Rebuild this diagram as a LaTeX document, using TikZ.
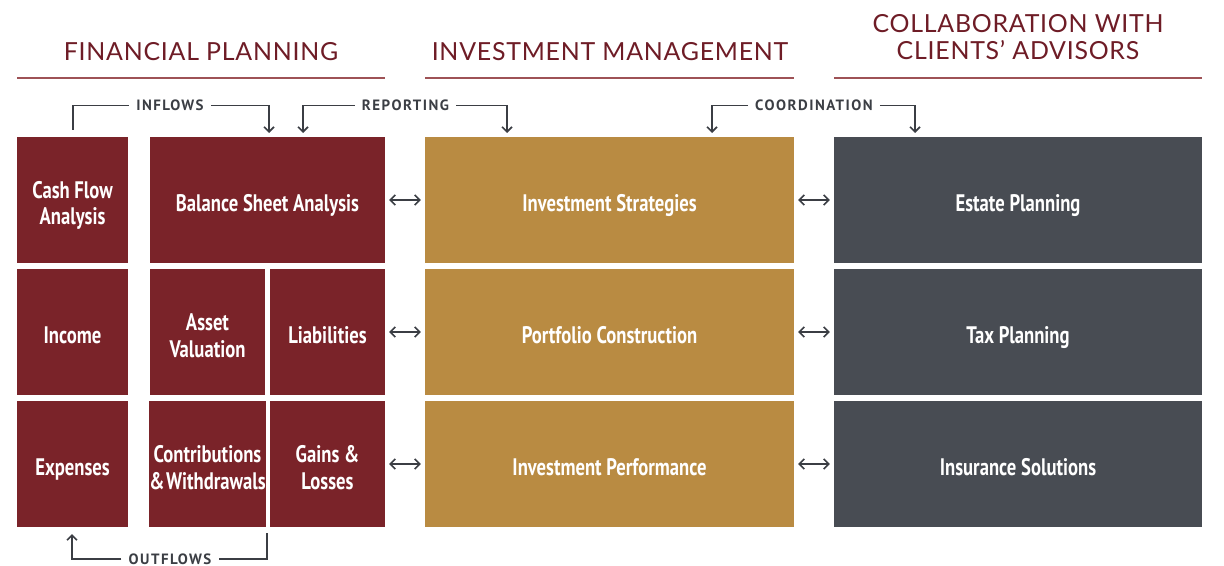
\documentclass[tikz,border=0pt]{standalone}
\usepackage{fontspec}
\usetikzlibrary{arrows.meta}
\newfontfamily\boxfont[FakeStretch=0.78]{PT Sans}
\newfontfamily\headfont[LetterSpace=3]{Lato}
\newfontfamily\tagfont[LetterSpace=10]{PT Sans}
\definecolor{fpred}{HTML}{7A2329}
\definecolor{imgold}{HTML}{B98B42}
\definecolor{caslate}{HTML}{484C53}
\definecolor{headred}{HTML}{6E1C26}
\definecolor{rulered}{HTML}{9E5256}
\definecolor{conngray}{HTML}{3B3E44}

\begin{document}
\begin{tikzpicture}[x=1bp,y=-1bp,
  cell/.style={minimum height=126bp,inner sep=0pt,align=center,text=white,
    text height=23bp,text depth=0pt,
    font=\boxfont\bfseries\fontsize{24}{27}\selectfont},
  twoline/.style={text height=50bp},
  fpcell/.style={cell,fill=fpred},
  imcell/.style={cell,fill=imgold,minimum width=369bp},
  cacell/.style={cell,fill=caslate,minimum width=368bp},
  head/.style={text=headred,inner sep=0pt,align=center,font=\headfont\fontsize{25}{27}\selectfont},
  rule/.style={rulered,line width=1.3bp},
  tag/.style={text=conngray,inner xsep=7bp,inner ysep=0pt,font=\tagfont\bfseries\fontsize{15}{18}\selectfont},
  conn/.style={conngray,line width=1.6bp,arrows={-{Straight Barb[length=5bp,width=10bp]}}},
  line/.style={conngray,line width=1.6bp},
  link/.style={conngray,line width=1.6bp,{Straight Barb[length=5bp,width=10bp]}-{Straight Barb[length=5bp,width=10bp]},shorten <=4bp,shorten >=4bp}]
  \useasboundingbox (0,0) rectangle (1224,566);

  % headings
  \node[head] (fphead) at (201,52) {FINANCIAL PLANNING};
  \node[head] (imhead) at (610,52) {INVESTMENT MANAGEMENT};
  \node[head] (cahead) at (1018,37.5) {COLLABORATION WITH\\CLIENTS’ ADVISORS};
  \draw[rule] (17,78) -- (385,78);
  \draw[rule] (425,78) -- (794,78);
  \draw[rule] (834,78) -- (1202,78);

  % financial planning
  \node[fpcell,twoline,minimum width=111bp] (cashflow) at (72.5,200) {Cash Flow\\Analysis};
  \node[fpcell,minimum width=235bp] (balance) at (267.5,200) {Balance Sheet Analysis};
  \node[fpcell,minimum width=111bp] (income) at (72.5,332) {Income};
  \node[fpcell,twoline,minimum width=115bp] (asset) at (207.5,332) {Asset\\Valuation};
  \node[fpcell,minimum width=115bp] (liab) at (327.5,332) {Liabilities};
  \node[fpcell,minimum width=111bp] (expenses) at (72.5,464) {Expenses};
  \node[fpcell,twoline,minimum width=115bp] (contrib) at (207.5,464) {Contributions\\\&\hspace{1.5bp}Withdrawals};
  \node[fpcell,twoline,minimum width=115bp] (gains) at (327.5,464) {Gains \&\\Losses};

  % investment management
  \node[imcell] (strat) at (609.5,200) {Investment Strategies};
  \node[imcell] (portfolio) at (609.5,332) {Portfolio Construction};
  \node[imcell] (perf) at (609.5,464) {Investment Performance};

  % advisors
  \node[cacell] (estate) at (1018,200) {Estate Planning};
  \node[cacell] (tax) at (1018,332) {Tax Planning};
  \node[cacell] (insurance) at (1018,464) {Insurance Solutions};

  \draw[link] (balance) -- (strat);
  \draw[link] (liab) -- (portfolio);
  \draw[link] (gains) -- (perf);
  \draw[link] (strat) -- (estate);
  \draw[link] (portfolio) -- (tax);
  \draw[link] (perf) -- (insurance);

  % flows
  \node[tag] (inflows) at (170,105.5) {INFLOWS};
  \node[tag] (reporting) at (405.5,105.5) {REPORTING};
  \node[tag] (coordination) at (814,105.5) {COORDINATION};
  \node[tag] (outflows) at (170,559) {OUTFLOWS};
  \coordinate (inStart) at (73,130);
  \coordinate (inTip) at (269,133);
  \coordinate (repTipA) at (303,133);
  \coordinate (repTipB) at (507,133);
  \coordinate (coTipA) at (712,133);
  \coordinate (coTipB) at (915,133);
  \coordinate (outStart) at (267,533);
  \coordinate (outTip) at (72,534);
  \draw[line] (inStart) |- (inflows.west);
  \draw[conn] (inflows.east) -| (inTip);
  \draw[conn] (reporting.west) -| (repTipA);
  \draw[conn] (reporting.east) -| (repTipB);
  \draw[conn] (coordination.west) -| (coTipA);
  \draw[conn] (coordination.east) -| (coTipB);
  \draw[line] (outStart) |- (outflows.east);
  \draw[conn] (outflows.west) -| (outTip);
\end{tikzpicture}
\end{document}
